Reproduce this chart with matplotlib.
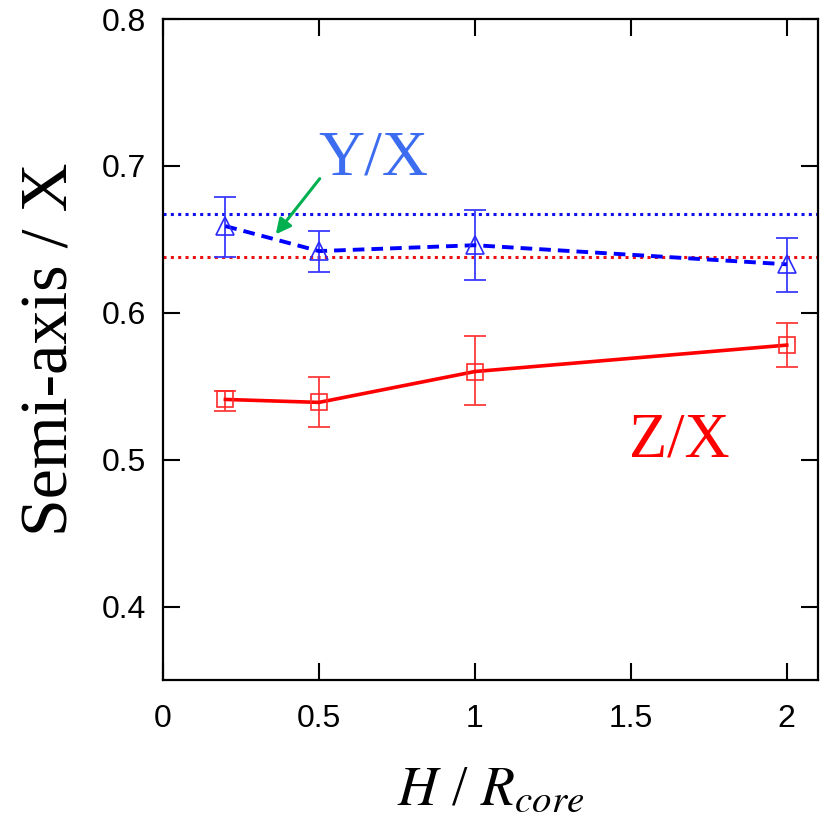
import numpy as np
import matplotlib
matplotlib.use('Agg')
import matplotlib.pyplot as plt
from matplotlib import rcParams

rcParams['font.family'] = 'Liberation Sans'
rcParams['mathtext.fontset'] = 'stix'

# H / R_core values
h_ratio = [0.2, 0.5, 1.0, 2.0]

# Y/X semi-axis ratio with error bar limits
yx_mean = [0.659, 0.642, 0.646, 0.633]
yx_upper = [0.679, 0.656, 0.670, 0.651]
yx_lower = [0.638, 0.6275, 0.622, 0.614]

# Z/X semi-axis ratio with error bar limits
zx_mean = [0.541, 0.539, 0.560, 0.578]
zx_upper = [0.547, 0.556, 0.584, 0.593]
zx_lower = [0.533, 0.522, 0.537, 0.563]

# reference levels
yx_ref = 0.667
zx_ref = 0.638

x_ticks = [0, 0.5, 1, 1.5, 2]
y_ticks = [0.4, 0.5, 0.6, 0.7, 0.8]


def err(mean, lo, hi):
    return [np.array(mean) - np.array(lo), np.array(hi) - np.array(mean)]


fig = plt.figure(figsize=(8.3, 8.19), dpi=100)
ax = fig.add_axes([0.1964, 0.1697, 0.7891, 0.8071])

ax.axhline(yx_ref, color='#1010ee', linestyle=(0, (1, 1.4)), linewidth=2.2, zorder=1)
ax.axhline(zx_ref, color='#ee1010', linestyle=(0, (1, 1.4)), linewidth=2.2, zorder=1)

ax.errorbar(h_ratio, yx_mean, yerr=err(yx_mean, yx_lower, yx_upper),
            fmt='none', ecolor='#3a3aff', elinewidth=1.3, capsize=8, capthick=1.3, zorder=2)
ax.plot(h_ratio, yx_mean, color='#0000ff', linestyle=(0, (3, 1.8)), linewidth=2.8,
        marker='^', markersize=13, markerfacecolor='none', markeredgecolor='#2a2aff',
        markeredgewidth=1.2, zorder=3)

ax.errorbar(h_ratio, zx_mean, yerr=err(zx_mean, zx_lower, zx_upper),
            fmt='none', ecolor='#ff3a3a', elinewidth=1.3, capsize=8, capthick=1.3, zorder=2)
ax.plot(h_ratio, zx_mean, color='#ff0000', linestyle='-', linewidth=2.6,
        marker='s', markersize=12, markerfacecolor='none', markeredgecolor='#ff2a2a',
        markeredgewidth=1.2, zorder=3)

ax.text(0.673, 0.7044, 'Y/X', color='#3c6cf0', fontsize=46, family='Liberation Serif',
        ha='center', va='center')
ax.text(1.657, 0.5126, 'Z/X', color='#ff0000', fontsize=45, family='Liberation Serif',
        ha='center', va='center')
ax.annotate('', xy=(0.356, 0.6519), xytext=(0.508, 0.6928),
            arrowprops=dict(arrowstyle='-|>,head_length=0.9,head_width=0.45',
                            color='#00b050', lw=2.2))

ax.set_xlim(0, 2.1)
ax.set_ylim(0.35, 0.8)
ax.set_xticks(x_ticks)
ax.set_xticklabels(['0', '0.5', '1', '1.5', '2'])
ax.set_yticks(y_ticks)
ax.tick_params(direction='in', length=12, width=1.5, labelsize=23,
               top=True, right=True)
ax.tick_params(axis='y', pad=12)
ax.tick_params(axis='x', pad=17)
for sp in ax.spines.values():
    sp.set_linewidth(1.6)

ax.set_ylabel('Semi-axis / X', fontsize=49, family='Liberation Serif', labelpad=15)
ax.set_xlabel(r'$H$ / $R_{core}$', fontsize=40, family='Liberation Serif', labelpad=22)

fig.savefig('out.png', dpi=100)
